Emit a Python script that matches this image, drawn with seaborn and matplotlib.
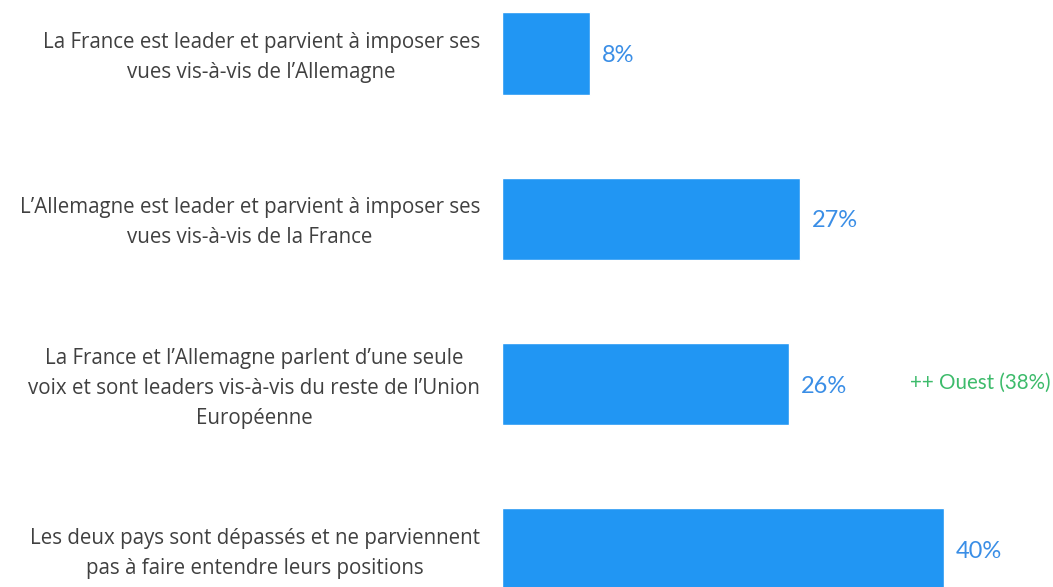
import matplotlib
matplotlib.use("Agg")
import matplotlib.pyplot as plt
import seaborn as sns
import pandas as pd

categories = [
    "La France est leader et parvient à imposer ses\nvues vis-à-vis de l’Allemagne",
    "L’Allemagne est leader et parvient à imposer ses\nvues vis-à-vis de la France",
    "La France et l’Allemagne parlent d’une seule\nvoix et sont leaders vis-à-vis du reste de l’Union\nEuropéenne",
    "Les deux pays sont dépassés et ne parviennent\npas à faire entendre leurs positions",
]
values = [8, 27, 26, 40]
value_labels = ["8%", "27%", "26%", "40%"]
note_index = 2
note_text = "++ Ouest (38%)"

sns.set_style("white")
plt.rcParams["font.family"] = ["Open Sans", "DejaVu Sans"]

df = pd.DataFrame({"cat": categories, "val": values})

fig = plt.figure(figsize=(10.53, 5.87), dpi=100)
ax = fig.add_axes([502 / 1053, 0, 1 - 502 / 1053, 1])
sns.barplot(data=df, y="cat", x="val", orient="h", color="#2196F3",
            saturation=1, width=0.5, ax=ax)

px_per_unit = 11.04
ax.set_xlim(0, (1053 - 502) / px_per_unit)
ax.set_ylim(3.227, -0.324)

for s in ax.spines.values():
    s.set_visible(False)
ax.set_xticks([])
ax.set_xlabel("")
ax.set_ylabel("")
ax.tick_params(axis="y", length=0, labelleft=False)

for i, cat in enumerate(categories):
    ax.annotate(cat, xy=(0, i), xytext=(-22, -4), textcoords="offset pixels",
                ha="right", va="center", multialignment="center",
                linespacing=1.56, fontsize=14.8, color="#404040",
                annotation_clip=False)

for i, (v, lab) in enumerate(zip(values, value_labels)):
    ax.annotate(lab, xy=(v, i), xytext=(12, -2), textcoords="offset pixels",
                va="center", ha="left", fontsize=17, color="#3a8ee6",
                family=["Lato", "DejaVu Sans"])

ax.annotate(note_text, xy=(1, note_index), xycoords=("axes fraction", "data"),
            xytext=(-3, 1), textcoords="offset pixels",
            va="center", ha="right", fontsize=14.8, color="#3dbb6b",
            family=["Lato", "DejaVu Sans"])

fig.savefig("out.png", dpi=100)
